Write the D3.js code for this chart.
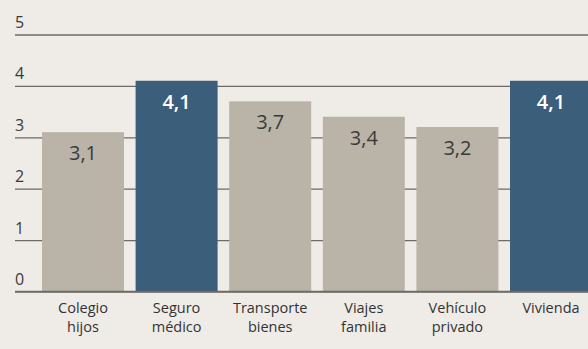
<!DOCTYPE html>
<html>
<head>
<meta charset="utf-8">
<script src="https://cdn.jsdelivr.net/npm/d3@7/dist/d3.min.js"></script>
<style>
  html, body { margin: 0; padding: 0; background: #efece8; }
  svg { display: block; }
  text { font-family: "Open Sans", "Noto Sans", sans-serif; }
</style>
</head>
<body>
<svg id="chart" width="588" height="349"></svg>
<script>
// Categories (two-line labels) and their values
const categories = ["Colegio hijos", "Seguro médico", "Transporte bienes", "Viajes familia", "Vehículo privado", "Vivienda"];
const labelLines = [["Colegio", "hijos"], ["Seguro", "médico"], ["Transporte", "bienes"], ["Viajes", "familia"], ["Vehículo", "privado"], ["Vivienda"]];
const values = [3.1, 4.1, 3.7, 3.4, 3.2, 4.1];
const highlighted = [false, true, false, false, false, true];
const yTicks = [0, 1, 2, 3, 4, 5];

const svg = d3.select("#chart");
const W = 588, H = 349;

const x = d3.scaleBand()
  .domain(categories)
  .range([36.2, 597.8])
  .paddingInner(0.124)
  .paddingOuter(0.062);

const y = d3.scaleLinear()
  .domain([0, 5])
  .range([291.5, 34.5]);

// Horizontal gridlines with tick numbers above each line
const yAxis = d3.axisRight(y)
  .tickValues(yTicks)
  .tickSize(W - 15)
  .tickFormat(d3.format("d"));

const gAxis = svg.append("g")
  .attr("transform", "translate(15,0)")
  .call(yAxis);
gAxis.select(".domain").remove();
gAxis.selectAll(".tick line")
  .attr("stroke", "#6e6a66")
  .attr("stroke-width", 1.3);
gAxis.selectAll(".tick text")
  .attr("x", 0)
  .attr("dy", -7)
  .attr("text-anchor", "start")
  .attr("fill", "#3a3a3a")
  .attr("font-size", 16)
  .attr("font-weight", 500);

// Bars
svg.append("g")
  .selectAll("rect")
  .data(categories)
  .join("rect")
  .attr("x", d => x(d))
  .attr("y", (d, i) => y(values[i]))
  .attr("width", x.bandwidth())
  .attr("height", (d, i) => y(0) - y(values[i]))
  .attr("fill", (d, i) => highlighted[i] ? "#3b5e7b" : "#bab4a8");

// Baseline redrawn over the bars' bottom edge
svg.append("line")
  .attr("x1", 15).attr("x2", W)
  .attr("y1", y(0)).attr("y2", y(0))
  .attr("stroke", "#6e6a66")
  .attr("stroke-width", 1.5);

// Value labels inside the bars
const fmt = v => d3.format(".1f")(v).replace(".", ",");
svg.append("g")
  .selectAll("text")
  .data(categories)
  .join("text")
  .attr("x", d => x(d) + x.bandwidth() / 2)
  .attr("y", (d, i) => y(values[i]) + 28)
  .attr("text-anchor", "middle")
  .attr("font-size", 20)
  .attr("fill", (d, i) => highlighted[i] ? "#ffffff" : "#3a3a3a")
  .attr("font-weight", (d, i) => highlighted[i] ? 600 : 400)
  .text((d, i) => fmt(values[i]));

// Category labels below the baseline, one text per line
const catG = svg.append("g");
categories.forEach((d, i) => {
  labelLines[i].forEach((line, k) => {
    catG.append("text")
      .attr("x", x(d) + x.bandwidth() / 2)
      .attr("y", 313 + k * 19)
      .attr("text-anchor", "middle")
      .attr("font-size", 14.5)
      .attr("font-weight", 500)
      .attr("fill", "#333")
      .text(line);
  });
});
</script>
</body>
</html>
